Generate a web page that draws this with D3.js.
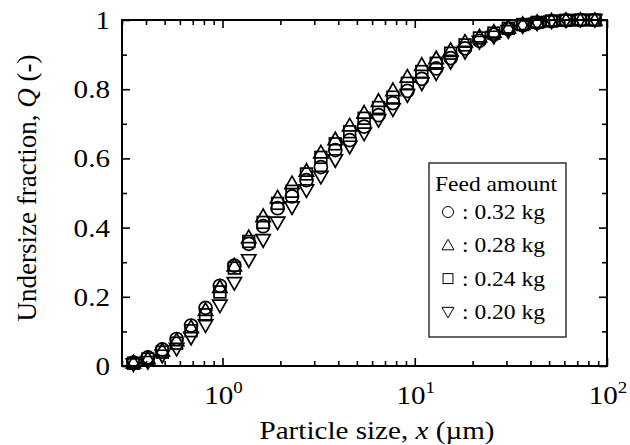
<!DOCTYPE html>
<html>
<head>
<meta charset="utf-8">
<script src="https://cdn.jsdelivr.net/npm/d3@7"></script>
<style>
  body { margin: 0; background: #fff; }
  svg { display: block; font-family: "Liberation Serif", "Times New Roman", serif; }
</style>
</head>
<body>
<svg id="chart" width="630" height="445"></svg>
<script>
// particle sizes (um)
const sizes = [0.344, 0.409, 0.486, 0.577, 0.686, 0.816, 0.969, 1.152, 1.369, 1.627,
  1.934, 2.299, 2.733, 3.248, 3.860, 4.587, 5.452, 6.480, 7.701, 9.152,
  10.88, 12.93, 15.37, 18.26, 21.70, 25.79, 30.66, 36.43, 43.30, 51.46,
  61.16, 72.69, 86.39];

const q032 = [0.010, 0.025, 0.048, 0.078, 0.117, 0.168, 0.232, 0.290, 0.353, 0.404,
  0.456, 0.490, 0.537, 0.575, 0.624, 0.653, 0.692, 0.725, 0.760, 0.795,
  0.830, 0.860, 0.890, 0.918, 0.940, 0.958, 0.974, 0.985, 0.992, 0.997,
  0.999, 1.000, 1.000];
const q028 = [0.010, 0.022, 0.045, 0.074, 0.112, 0.162, 0.228, 0.290, 0.372, 0.433,
  0.487, 0.528, 0.564, 0.617, 0.655, 0.695, 0.732, 0.766, 0.797, 0.836,
  0.870, 0.889, 0.913, 0.937, 0.952, 0.966, 0.978, 0.988, 0.994, 0.998,
  1.000, 1.000, 1.000];
const q024 = [0.008, 0.020, 0.040, 0.066, 0.102, 0.148, 0.214, 0.283, 0.360, 0.415,
  0.470, 0.505, 0.555, 0.603, 0.642, 0.677, 0.716, 0.747, 0.777, 0.817,
  0.851, 0.875, 0.904, 0.928, 0.948, 0.962, 0.976, 0.987, 0.993, 0.997,
  0.999, 1.000, 1.000];
const q020 = [0.005, 0.012, 0.030, 0.050, 0.082, 0.118, 0.175, 0.240, 0.306, 0.364,
  0.415, 0.459, 0.508, 0.547, 0.595, 0.634, 0.672, 0.711, 0.742, 0.783,
  0.817, 0.846, 0.879, 0.908, 0.937, 0.952, 0.968, 0.982, 0.990, 0.996,
  0.999, 1.000, 1.000];

const seriesLabels = [": 0.32 kg", ": 0.28 kg", ": 0.24 kg", ": 0.20 kg"];
const seriesShapes = ["circle", "triangleUp", "square", "triangleDown"];
const seriesValues = [q032, q028, q024, q020];

const yTicks = [0, 0.2, 0.4, 0.6, 0.8, 1];
const yTickLabels = ["0", "0.2", "0.4", "0.6", "0.8", "1"];
const xMajor = [1, 10, 100];
const xMajorExp = ["0", "1", "2"];

const margin = { left: 122, right: 23, top: 20, bottom: 79 };
const W = 630, H = 445;
const svg = d3.select("#chart");

const x = d3.scaleLog().domain([0.3, 100]).range([margin.left, W - margin.right]);
const y = d3.scaleLinear().domain([0, 1]).range([H - margin.bottom, margin.top]);

// the scanned lettering is a bit wider than plain Times
const stretch = 1.12;
function label(px, py, anchor, size) {
  return svg.append("text")
    .attr("transform", `translate(${px},${py}) scale(${stretch},1)`)
    .attr("text-anchor", anchor).attr("font-size", size);
}

// marker drawing
function marker(g, shape, cx, cy, s) {
  if (shape === "circle") {
    g.append("circle").attr("cx", cx).attr("cy", cy).attr("r", s * 0.5);
  } else if (shape === "square") {
    const h = s * 0.45;
    g.append("rect").attr("x", cx - h).attr("y", cy - h).attr("width", 2 * h).attr("height", 2 * h);
  } else {
    const h = s * 0.55, dir = shape === "triangleUp" ? 1 : -1;
    const pts = [[cx, cy - dir * h], [cx + h, cy + dir * h * 0.75], [cx - h, cy + dir * h * 0.75]];
    g.append("path").attr("d", "M" + pts.join("L") + "Z");
  }
}

// data points
seriesValues.forEach((vals, k) => {
  const g = svg.append("g").attr("fill", "none").attr("stroke", "#000").attr("stroke-width", 1.7);
  sizes.forEach((s, i) => marker(g, seriesShapes[k], x(s), y(vals[i]), 13));
});

// frame
const plotW = W - margin.right - margin.left, plotH = H - margin.bottom - margin.top;
svg.append("rect")
  .attr("x", margin.left).attr("y", margin.top)
  .attr("width", plotW).attr("height", plotH)
  .attr("fill", "none").attr("stroke", "#000").attr("stroke-width", 2);

// ticks (inward on all four sides)
const minorX = [];
[0.1, 1, 10].forEach(d => { for (let m = 2; m <= 9; m++) { const v = d * m; if (v >= 0.3 && v < 100) minorX.push(v); } });

const yBot = y(0), yTop = y(1), xLeft = x(0.3), xRight = x(100);
svg.append("g").attr("transform", `translate(0,${yBot})`)
  .call(d3.axisTop(x).tickValues(xMajor).tickSize(8).tickFormat(""))
  .call(a => a.select(".domain").remove());
svg.append("g").attr("transform", `translate(0,${yBot})`)
  .call(d3.axisTop(x).tickValues(minorX).tickSize(5).tickFormat(""))
  .call(a => a.select(".domain").remove());
svg.append("g").attr("transform", `translate(0,${yTop})`)
  .call(d3.axisBottom(x).tickValues(xMajor).tickSize(8).tickFormat(""))
  .call(a => a.select(".domain").remove());
svg.append("g").attr("transform", `translate(0,${yTop})`)
  .call(d3.axisBottom(x).tickValues(minorX).tickSize(5).tickFormat(""))
  .call(a => a.select(".domain").remove());

const minorY = d3.range(1, 10, 2).map(d => d / 10);
svg.append("g").attr("transform", `translate(${xLeft},0)`)
  .call(d3.axisRight(y).tickValues(yTicks).tickSize(8).tickFormat(""))
  .call(a => a.select(".domain").remove());
svg.append("g").attr("transform", `translate(${xLeft},0)`)
  .call(d3.axisRight(y).tickValues(minorY).tickSize(5).tickFormat(""))
  .call(a => a.select(".domain").remove());
svg.append("g").attr("transform", `translate(${xRight},0)`)
  .call(d3.axisLeft(y).tickValues(yTicks).tickSize(8).tickFormat(""))
  .call(a => a.select(".domain").remove());
svg.append("g").attr("transform", `translate(${xRight},0)`)
  .call(d3.axisLeft(y).tickValues(minorY).tickSize(5).tickFormat(""))
  .call(a => a.select(".domain").remove());
svg.selectAll(".tick line").attr("stroke", "#000").attr("stroke-width", 1.6);

// y tick labels
yTicks.forEach((v, i) => {
  label(110, y(v) + 9, "end", 26).text(yTickLabels[i]);
});

// x tick labels 10^n
xMajor.forEach((v, i) => {
  const t = label(x(v) + 1, 404, "middle", 26);
  t.append("tspan").text("10");
  t.append("tspan").attr("font-size", 17).attr("dy", -11).text(xMajorExp[i]);
});

// axis titles
const xt = label(377, 439, "middle", 26);
xt.append("tspan").text("Particle size, ");
xt.append("tspan").attr("font-style", "italic").text("x");
xt.append("tspan").text(" (\u00b5m)");

const yt = svg.append("text").attr("transform", "translate(36,188) rotate(-90)")
  .attr("text-anchor", "middle").attr("font-size", 27);
yt.append("tspan").text("Undersize fraction, ");
yt.append("tspan").attr("font-style", "italic").text("Q");
yt.append("tspan").text(" (-)");

// legend
svg.append("rect").attr("x", 429).attr("y", 163).attr("width", 137).attr("height", 174)
  .attr("fill", "#fff").attr("stroke", "#000").attr("stroke-width", 1.2);
label(496, 191, "middle", 21).text("Feed amount");
seriesLabels.forEach((lab, k) => {
  const cy = 212 + k * 33.3;
  const g = svg.append("g").attr("fill", "none").attr("stroke", "#000").attr("stroke-width", 1);
  marker(g, seriesShapes[k], 448, cy, 11);
  label(462, cy + 7, "start", 21).text(lab);
});
</script>
</body>
</html>
